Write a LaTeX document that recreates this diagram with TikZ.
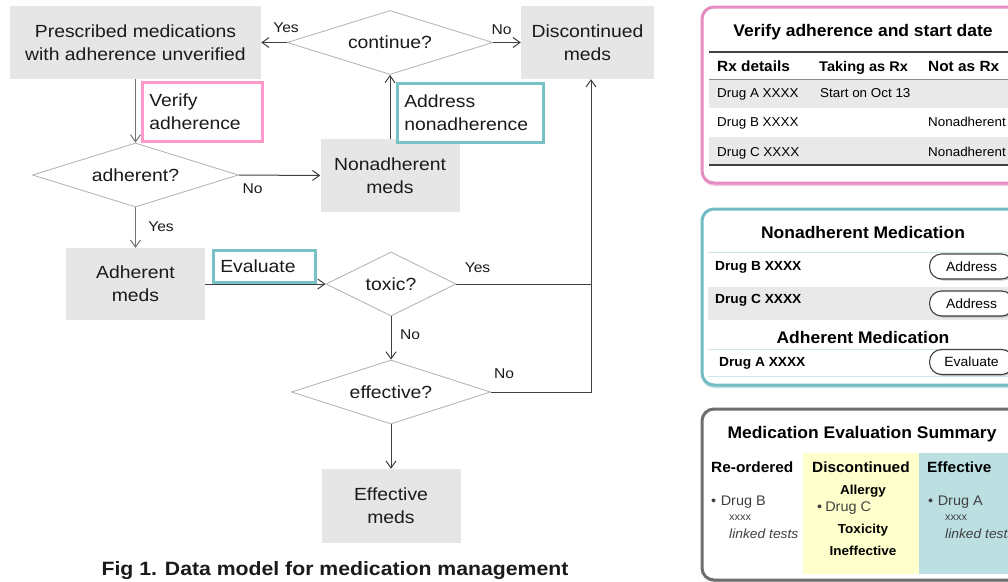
\documentclass[tikz,border=0pt]{standalone}
\usepackage{fontspec}
\setmainfont[FakeStretch=1.1]{Liberation Sans}
\newfontfamily\rpf[FakeStretch=1.04]{Liberation Sans}
\usetikzlibrary{shapes.geometric,arrows.meta,shadows}
\definecolor{boxgray}{HTML}{E6E6E6}
\definecolor{dgray}{HTML}{B0B0B0}
\definecolor{pinkc}{HTML}{FF99CC}
\definecolor{tealc}{HTML}{78C2C6}
\definecolor{lnc}{HTML}{404040}
\definecolor{pinkp}{HTML}{E58CC0}
\definecolor{tealp}{HTML}{72BCC4}
\definecolor{grayp}{HTML}{6E6E6E}
\definecolor{rowgray}{HTML}{E9E9E9}
\definecolor{yellowc}{HTML}{FFFFCC}
\definecolor{effc}{HTML}{BCDFE2}
\definecolor{txt}{HTML}{1A1A1A}
\newcommand\fcf{\fontsize{17.6}{23}\selectfont}
\newcommand\lblf{\fontsize{14.2}{16}\selectfont}
\begin{document}
\begin{tikzpicture}[x=1pt,y=-1pt,
  box/.style={fill=boxgray, inner sep=0pt, align=center, font=\fcf, text=txt},
  dia/.style={diamond, draw=dgray, line width=0.8pt, fill=white, inner sep=0pt, font=\fcf, text=txt},
  act/.style={line width=2.5pt, fill=white, align=left, inner xsep=7pt, inner ysep=0pt, font=\fcf, anchor=north west, text=txt},
  arr/.style={draw=lnc, line width=1pt, -{Straight Barb[length=7pt,width=10pt]}},
  ln/.style={draw=lnc, line width=1pt},
  lbl/.style={font=\lblf, inner sep=0pt, text=txt},
  ptitle/.style={font=\rpf\bfseries\fontsize{16.8}{20}\selectfont, anchor=base, inner sep=0pt},
  phead/.style={font=\rpf\bfseries\fontsize{14.8}{18}\selectfont, anchor=base west, inner sep=0pt},
  pcell/.style={font=\rpf\fontsize{12.9}{16}\selectfont, anchor=base west, inner sep=0pt},
  pbold/.style={font=\rpf\bfseries\fontsize{13.2}{16}\selectfont, anchor=base west, inner sep=0pt},
  btn/.style={draw=lnc, line width=1.1pt, fill=white, rounded corners=12pt, minimum width=84pt, minimum height=25pt, inner sep=0pt, anchor=west, font=\rpf\fontsize{13.4}{16}\selectfont, drop shadow={shadow xshift=1.5pt, shadow yshift=-1.5pt, opacity=.45}},
  sbody/.style={font=\rpf\fontsize{13.9}{16}\selectfont, anchor=base west, inner sep=0pt, text=black!75},
  ssmall/.style={font=\rpf\fontsize{10.5}{12}\selectfont, anchor=base west, inner sep=0pt, text=black!75},
  sital/.style={font=\rpf\itshape\fontsize{13.3}{16}\selectfont, anchor=base west, inner sep=0pt, text=black!75},
  scat/.style={font=\rpf\bfseries\fontsize{13}{16}\selectfont, anchor=base, inner sep=0pt}
]
\clip (0,0) rectangle (1008,581);
\fill[white] (0,0) rectangle (1008,581);

% ---------------- flowchart ----------------
\node[box, minimum width=251pt, minimum height=73pt] (pres) at (135.5,42.5) {Prescribed medications\\with adherence unverified};
\node[dia, aspect=3.2, minimum width=206pt, minimum height=64pt] (cont) at (390,42.5) {continue?};
\node[box, minimum width=133pt, minimum height=73pt] (disc) at (587.5,42.5) {Discontinued\\meds};
\node[dia, aspect=3.2, minimum width=206pt, minimum height=64pt] (adh) at (135.5,175) {adherent?};
\node[box, minimum width=139pt, minimum height=73pt] (nadm) at (390,175.5) {Nonadherent\\meds};
\node[box, minimum width=139pt, minimum height=72pt] (adm) at (135.5,284) {Adherent\\meds};
\node[dia, aspect=2, minimum width=130pt, minimum height=64pt] (tox) at (391,284) {toxic?};
\node[dia, aspect=3.1, minimum width=199pt, minimum height=64pt] (eff) at (391,392) {effective?};
\node[box, minimum width=139pt, minimum height=74pt] (effm) at (391,506) {Effective\\meds};

\node[act, draw=pinkc, minimum width=120pt, minimum height=59pt, text width=106pt] (ver) at (141,81) {Verify\\adherence};
\node[act, draw=tealc, minimum width=146pt, minimum height=59pt, text width=132pt] (addr) at (396,82) {Address\\nonadherence};
\node[act, draw=tealc, minimum width=102pt, minimum height=32pt, text width=88pt] (evl) at (212,249) {Evaluate};

\coordinate (j1) at (591,284);
\coordinate (j2) at (591,392);

\draw[arr, draw=black!55] (pres.south) -- (adh.north);
\draw[arr] (adh.east) -- (nadm.west);
\draw[arr] (nadm.north) -- (cont.south);
\draw[arr] (cont.west) -- (pres.east);
\draw[arr] (cont.east) -- (disc.west);
\draw[arr, draw=black!55] (adh.south) -- (adm.north);
\draw[arr] (adm.east) -- (tox.west);
\draw[ln] (tox.east) -- (j1);
\draw[arr] (tox.south) -- (eff.north);
\draw[arr] (eff.east) -- (j2) -- (j2 |- disc.south);
\draw[arr] (eff.south) -- (effm.north);

\node[lbl] (l1) at (286,27.5) {Yes};
\node[lbl] (l2) at (501.5,29.5) {No};
\node[lbl] (l3) at (252.5,188.5) {No};
\node[lbl] (l4) at (161,226.5) {Yes};
\node[lbl] (l5) at (477.5,268) {Yes};
\node[lbl] (l6) at (410,335) {No};
\node[lbl] (l7) at (504,374) {No};

\node[font=\bfseries\fontsize{19.3}{22}\selectfont, anchor=base, inner sep=0pt, text=txt] (cap) at (335,575) {Fig 1. Data model for medication management};

% ---------------- panel 1 ----------------
\draw[draw=pinkp, line width=3pt, fill=white, rounded corners=12pt, drop shadow={fill=pinkp, shadow xshift=0pt, shadow yshift=-3pt, opacity=.45}] (702,7) rectangle (1030,183);
\fill[rowgray] (709,79) rectangle (1008,108);
\fill[rowgray] (709,137) rectangle (1008,165);
\draw[line width=1.5pt, draw=lnc] (709,52) -- (1008,52);
\draw[line width=1pt, draw=black!45] (709,79) -- (1008,79);
\draw[line width=1.5pt, draw=lnc] (709,165) -- (1008,165);
\node[ptitle] (p1t) at (863,36) {Verify adherence and start date};
\node[phead] (h1) at (717,71) {Rx details};
\node[phead, font=\rpf\bfseries\fontsize{14}{18}\selectfont] (h2) at (819,71) {Taking as Rx};
\node[phead] (h3) at (928,71) {Not as Rx};
\node[pcell] (r1a) at (717,97) {Drug A XXXX};
\node[pcell] (r1b) at (820,97) {Start on Oct 13};
\node[pcell] (r2a) at (717,126) {Drug B XXXX};
\node[pcell] (r2c) at (928,126) {Nonadherent};
\node[pcell] (r3a) at (717,156) {Drug C XXXX};
\node[pcell] (r3c) at (928,156) {Nonadherent};

% ---------------- panel 2 ----------------
\draw[draw=tealp, line width=3pt, fill=white, rounded corners=12pt, drop shadow={fill=tealp, shadow xshift=0pt, shadow yshift=-3pt, opacity=.45}] (702,209) rectangle (1030,385);
\fill[rowgray] (708,287) rectangle (1008,320);
\draw[line width=1pt, draw=tealp!35] (708,252) -- (1008,252);
\draw[line width=1pt, draw=tealp!35] (708,349) -- (1008,349);
\draw[line width=1pt, draw=tealp!35] (708,376) -- (1008,376);
\node[ptitle] (p2t) at (863,238.3) {Nonadherent Medication};
\node[pbold] (n1) at (715,270) {Drug B XXXX};
\node[btn] (b1) at (929,266.5) {Address};
\node[pbold] (n2) at (715,303.3) {Drug C XXXX};
\node[btn] (b2) at (929,303.5) {Address};
\node[ptitle] (p2u) at (863,343.3) {Adherent Medication};
\node[pbold] (n3) at (719,366.7) {Drug A XXXX};
\node[btn] (b3) at (929,362) {Evaluate};

% ---------------- panel 3 ----------------
\fill[white, rounded corners=12pt, drop shadow={fill=grayp, shadow xshift=0pt, shadow yshift=-2pt, opacity=.35}] (702,409) rectangle (1030,580);
\fill[yellowc] (803,453) rectangle (919,574);
\fill[effc] (919,453) rectangle (1008,574);
\draw[draw=grayp, line width=3pt, rounded corners=12pt] (702,409) rectangle (1030,580);
\node[ptitle] (p3t) at (862,438.3) {Medication Evaluation Summary};
\node[phead] (s1) at (711,472.3) {Re-ordered};
\node[phead] (s2) at (812,472.3) {Discontinued};
\node[phead] (s3) at (927,472.3) {Effective};
\node[sbody] (d1) at (711,505.7) {•\hspace{4.5pt}Drug B};
\node[ssmall] (d1x) at (729,520) {xxxx};
\node[sital] (d1l) at (729,538.3) {linked tests};
\node[scat] (c1) at (863,494.3) {Allergy};
\node[sbody] (d2) at (817,511.7) {•\hspace{3pt}Drug C};
\node[scat] (c2) at (863,533.3) {Toxicity};
\node[scat] (c3) at (863,555) {Ineffective};
\node[sbody] (d3) at (928,505.7) {•\hspace{4.5pt}Drug A};
\node[ssmall] (d3x) at (945,520) {xxxx};
\node[sital] (d3l) at (945,538.3) {linked tests};
\end{tikzpicture}
\end{document}
